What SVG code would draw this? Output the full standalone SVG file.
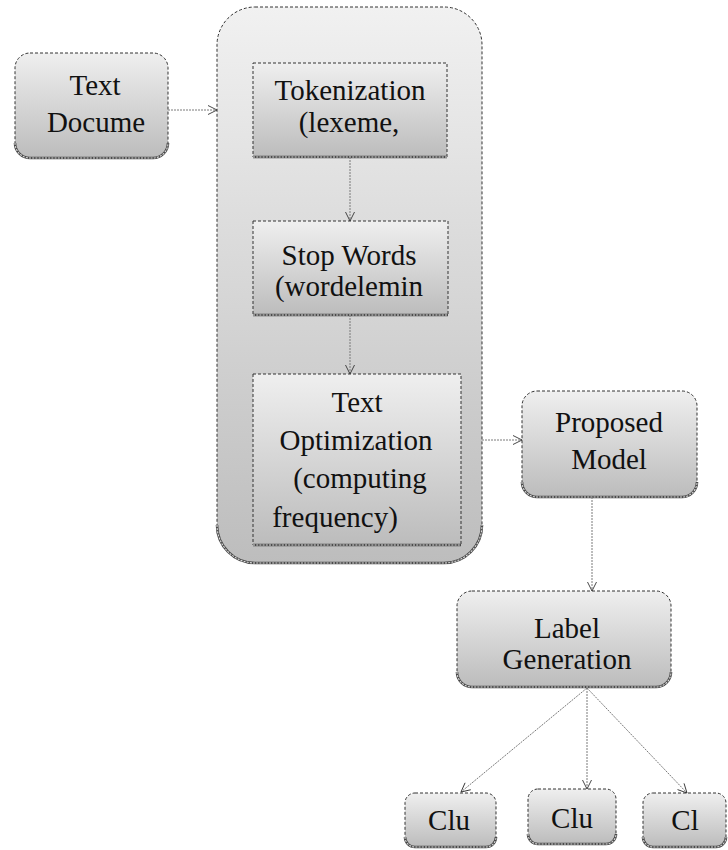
<svg xmlns="http://www.w3.org/2000/svg" width="728" height="850" viewBox="0 0 728 850">
<defs>
<linearGradient id="gNode" x1="0" y1="0" x2="0" y2="1">
<stop offset="0" stop-color="#efefef"/>
<stop offset="1" stop-color="#bcbcbc"/>
</linearGradient>
<linearGradient id="gCont" x1="0" y1="0" x2="0" y2="1">
<stop offset="0" stop-color="#f1f1f1"/>
<stop offset="1" stop-color="#bdbdbd"/>
</linearGradient>
<marker id="arr" markerUnits="userSpaceOnUse" markerWidth="12" markerHeight="12" refX="10" refY="6" orient="auto">
<path d="M1,1.5 L10,6 L1,10.5" fill="none" stroke="#333" stroke-width="0.9"/>
</marker>
<style>
.box{stroke:#333;stroke-width:1;stroke-dasharray:3 2;fill:url(#gNode)}
.cont{stroke:#333;stroke-width:1;stroke-dasharray:3 2;fill:url(#gCont)}
.wavyA{fill:none;stroke:#4a4a4a;stroke-width:2.6}
.wavyB{fill:none;stroke:#dcdcdc;stroke-width:1.1;stroke-dasharray:2 1.2}
.t{font-size:29px;fill:#111;text-anchor:middle}
.conn{fill:none;stroke:#7a7a7a;stroke-width:1;stroke-dasharray:2 1;marker-end:url(#arr)}
</style>
</defs>

<g font-family="'Liberation Serif', 'DejaVu Serif', serif">
<g id="container">
<rect class="cont" x="217" y="7" width="265" height="556" rx="38"/>
<path class="wavyA" d="M217,525 A38,38 0 0 0 255,563 H444 A38,38 0 0 0 482,525"/>
<path class="wavyB" d="M217,525 A38,38 0 0 0 255,563 H444 A38,38 0 0 0 482,525"/>
</g>

<g id="text-document">
<rect class="box" x="15" y="53" width="153" height="105" rx="15"/>
<path class="wavyA" d="M15,143 A15,15 0 0 0 30,158 H153 A15,15 0 0 0 168,143"/>
<path class="wavyB" d="M15,143 A15,15 0 0 0 30,158 H153 A15,15 0 0 0 168,143"/>
<text class="t" x="95" y="95">Text</text>
<text class="t" x="96" y="132">Docume</text>
</g>

<g id="tokenization">
<rect class="box" x="253" y="63" width="194" height="94"/>
<path class="wavyA" d="M253,157 H447"/>
<path class="wavyB" d="M253,157 H447"/>
<text class="t" x="350" y="100">Tokenization</text>
<text class="t" x="349" y="132">(lexeme,</text>
</g>

<g id="stop-words">
<rect class="box" x="253" y="221" width="195" height="94"/>
<path class="wavyA" d="M253,315 H448"/>
<path class="wavyB" d="M253,315 H448"/>
<text class="t" x="349" y="265">Stop Words</text>
<text class="t" x="349" y="296">(wordelemin</text>
</g>

<g id="text-optimization">
<rect class="box" x="253" y="374" width="208" height="171"/>
<path class="wavyA" d="M253,545 H461"/>
<path class="wavyB" d="M253,545 H461"/>
<text class="t" x="357" y="412">Text</text>
<text class="t" x="356" y="450">Optimization</text>
<text class="t" x="360" y="488">(computing</text>
<text class="t" x="335" y="527">frequency)</text>
</g>

<g id="proposed-model">
<rect class="box" x="522" y="391" width="175" height="106" rx="15"/>
<path class="wavyA" d="M522,482 A15,15 0 0 0 537,497 H682 A15,15 0 0 0 697,482"/>
<path class="wavyB" d="M522,482 A15,15 0 0 0 537,497 H682 A15,15 0 0 0 697,482"/>
<text class="t" x="609" y="432">Proposed</text>
<text class="t" x="609" y="469">Model</text>
</g>

<g id="label-generation">
<rect class="box" x="457" y="591" width="214" height="96" rx="15"/>
<path class="wavyA" d="M457,672 A15,15 0 0 0 472,687 H656 A15,15 0 0 0 671,672"/>
<path class="wavyB" d="M457,672 A15,15 0 0 0 472,687 H656 A15,15 0 0 0 671,672"/>
<text class="t" x="567" y="638">Label</text>
<text class="t" x="567" y="669">Generation</text>
</g>

<g id="cluster-1">
<rect class="box" x="405" y="793" width="91" height="54" rx="10"/>
<path class="wavyA" d="M405,837 A10,10 0 0 0 415,847 H486 A10,10 0 0 0 496,837"/>
<path class="wavyB" d="M405,837 A10,10 0 0 0 415,847 H486 A10,10 0 0 0 496,837"/>
<text class="t" x="449" y="830">Clu</text>
</g>

<g id="cluster-2">
<rect class="box" x="528" y="789" width="88" height="55" rx="10"/>
<path class="wavyA" d="M528,834 A10,10 0 0 0 538,844 H606 A10,10 0 0 0 616,834"/>
<path class="wavyB" d="M528,834 A10,10 0 0 0 538,844 H606 A10,10 0 0 0 616,834"/>
<text class="t" x="572" y="828">Clu</text>
</g>

<g id="cluster-3">
<rect class="box" x="643" y="793" width="83" height="54" rx="10"/>
<path class="wavyA" d="M643,837 A10,10 0 0 0 653,847 H716 A10,10 0 0 0 726,837"/>
<path class="wavyB" d="M643,837 A10,10 0 0 0 653,847 H716 A10,10 0 0 0 726,837"/>
<text class="t" x="685" y="830">Cl</text>
</g>
</g>

<g id="connectors">
<path class="conn" d="M168,110 H217"/>
<path class="conn" d="M350,157 V221"/>
<path class="conn" d="M350,315 V374"/>
<path class="conn" d="M482,440 H522"/>
<path class="conn" d="M592,497 V591"/>
<path class="conn" d="M587,688 L461,792"/>
<path class="conn" d="M587,688 V789"/>
<path class="conn" d="M587,688 L687,793"/>
</g>
</svg>
